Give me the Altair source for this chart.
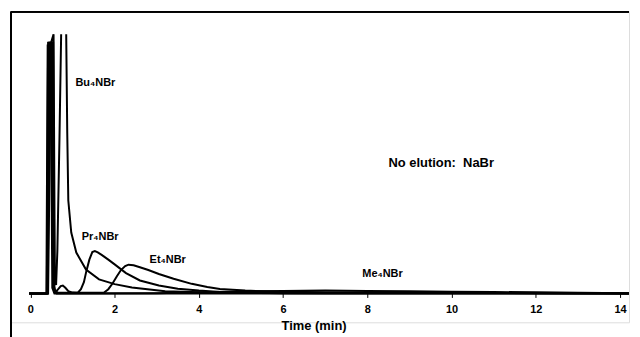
import altair as alt
import pandas as pd

# ---- data (time in min, signal in relative units) ----
bu_t1 = [-0.03, 0.42, 0.49, 0.55, 0.58, 0.61, 0.64, 0.69, 0.73]
bu_v1 = [0, 0, 89, 92, 5, 3, 15, 55, 92]
bu_t2 = [0.85, 0.875, 0.90, 0.97, 1.09, 1.32, 1.63, 2.0, 2.41, 3.2, 4.0, 5.0, 7.0, 14.21]
bu_v2 = [92, 57, 33, 21.6, 14.5, 8.5, 5.0, 3.3, 2.1, 0.8, 0.4, 0.2, 0.1, 0]

pr_t = [-0.03, 0.39, 0.42, 0.50, 0.55, 0.60, 0.66, 0.72, 0.77, 0.83, 0.90, 1.0, 1.12, 1.2, 1.27,
        1.33, 1.40, 1.47, 1.53, 1.60, 1.70, 1.85, 2.0, 2.27, 2.6, 3.05, 3.5, 4.0, 4.5, 5.0, 6.0, 14.21]
pr_v = [0, 0, 89, 89, 3, 0.5, 1.5, 2.6, 2.8, 2.0, 0.8, 0.3, 0.2, 1.5, 4,
        8, 12, 14.7, 15.0, 14.6, 13.6, 12.0, 10.3, 7.2, 4.6, 2.8, 1.7, 1.0, 0.5, 0.25, 0.1, 0]

et_t = [-0.03, 0.40, 0.44, 0.54, 0.57, 0.65, 1.0, 1.75, 1.85, 1.95, 2.05, 2.15, 2.25, 2.33,
        2.45, 2.6, 2.8, 3.05, 3.4, 3.83, 4.2, 4.5, 5.1, 6.0, 7.0, 8.0, 10.0, 14.21]
et_v = [0, 0, 89, 89, 1, 0.3, 0.2, 0.3, 1.5, 3.5, 6, 8.3, 9.7, 10.2,
        10.0, 9.3, 8.3, 6.9, 5.2, 3.4, 2.3, 1.6, 1.0, 0.6, 0.45, 0.35, 0.2, 0]

me_t = [-0.03, 0.41, 0.46, 0.52, 0.56, 0.62, 3.0, 4.0, 5.0, 6.0, 7.0, 8.0, 9.0, 10.0, 11.0, 12.0, 13.0, 14.21]
me_v = [0, 0, 89, 89, 1, 0, 0.1, 0.4, 0.7, 0.9, 1.0, 0.9, 0.8, 0.6, 0.5, 0.4, 0.2, 0.1]

na_t = [-0.03, 0.38, 0.41, 0.48, 0.52, 0.57, 14.21]
na_v = [0, 0, 88, 88, 2, 0, 0]

tick_values = [0, 2, 4, 6, 8, 10, 12, 14]

label_text = ["Bu\u2084NBr", "Pr\u2084NBr", "Et\u2084NBr", "Me\u2084NBr", "No elution:\u00a0\u00a0NaBr"]
label_t = [1.07, 1.22, 2.83, 7.88, 8.5]
label_v = [74.6, 20.0, 12.0, 7.0, 46.3]
label_size = [11, 11, 11, 11, 13]

# ---- build table ----
rows = []
def add(trace, seg, ts, vs):
    for t, v in zip(ts, vs):
        rows.append({"t": t, "v": v, "trace": trace, "seg": trace + str(seg)})

add("Bu", 1, bu_t1, bu_v1)
add("Bu", 2, bu_t2, bu_v2)
add("Pr", 1, pr_t, pr_v)
add("Et", 1, et_t, et_v)
add("Me", 1, me_t, me_v)
add("Na", 1, na_t, na_v)
df = pd.DataFrame(rows)

labels = pd.DataFrame({"t": label_t, "v": label_v, "text": label_text, "size": label_size})

W, H = 621, 312
xscale = alt.Scale(domain=[-0.461, 14.213], nice=False, zero=False)
yscale = alt.Scale(domain=[-10.25, 100], nice=False, zero=False)

lines = alt.Chart(df).mark_line(color="black", strokeWidth=2, clip=True, interpolate="linear").encode(
    x=alt.X("t:Q", scale=xscale,
            axis=alt.Axis(values=tick_values, format="d", title="Time (min)", domain=False,
                          grid=False, offset=-29, tickSize=4, tickColor="black", tickWidth=1,
                          labelFont="Liberation Sans", labelFontWeight="bold", labelFontSize=11,
                          labelColor="black", labelPadding=6,
                          titleFont="Liberation Sans", titleFontWeight="bold", titleFontSize=13,
                          titleColor="black", titlePadding=5, titleX=304)),
    y=alt.Y("v:Q", scale=yscale, axis=None),
    detail="seg:N",
    order="t:Q",
)

text = alt.Chart(labels).mark_text(align="left", baseline="middle", font="Liberation Sans",
                                   fontWeight="bold", color="black").encode(
    x=alt.X("t:Q", scale=xscale),
    y=alt.Y("v:Q", scale=yscale),
    text="text:N",
    size=alt.Size("size:Q", scale=None, legend=None),
)

left_rule = alt.Chart(labels).mark_rule(color="black", strokeWidth=1.5).encode(
    x=alt.value(0), y=alt.value(0), y2=alt.value(H + 20)
)
top_rule = alt.Chart(labels).mark_rule(color="black", strokeWidth=1.5).encode(
    x=alt.value(0), x2=alt.value(W), y=alt.value(0)
)

chart = alt.layer(lines, text, left_rule, top_rule).properties(
    width=W, height=H,
    autosize=alt.AutoSizeParams(type="none"),
    padding={"left": 3, "top": 3, "right": 3, "bottom": 20},
).configure_view(stroke=None).configure(background="white")

chart.save("out.html", embed_options={"renderer": "svg", "actions": False})
